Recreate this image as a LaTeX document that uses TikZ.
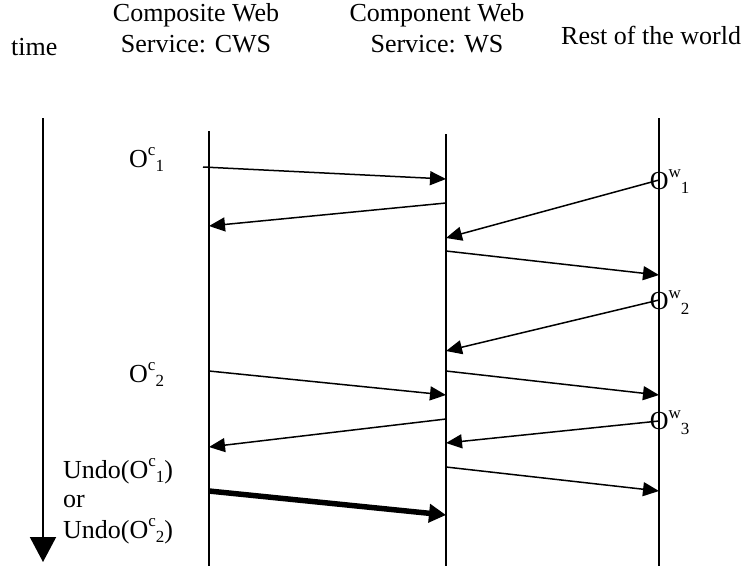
\documentclass[tikz,border=0pt]{standalone}
\usepackage{fontspec}
\setmainfont{Liberation Serif}
\usetikzlibrary{arrows.meta}
\newcommand\Opn[2]{O\raisebox{11.5pt}{\fontsize{17}{17}\selectfont #1}\raisebox{-4.5pt}{\fontsize{17}{17}\selectfont #2}}
\tikzset{
  lbl/.style={inner sep=0pt, anchor=base west, font=\fontsize{26}{31}\selectfont},
  hdr/.style={inner sep=0pt, anchor=base, font=\fontsize{26}{31}\selectfont},
  msg/.style={line width=1.5pt, -{Triangle[length=16pt,width=14pt]}},
  thickmsg/.style={line width=5.5pt, -{Triangle[length=17pt,width=18pt]}},
  life/.style={line width=1.5pt}
}
\begin{document}
\begin{tikzpicture}[x=1pt,y=-1pt]
\useasboundingbox (0,0) rectangle (747,566);
% headers
\node[lbl] (time) at (11,55) {time};
\node[hdr] (cws1) at (196,21) {Composite Web};
\node[hdr] (cws2) at (196,52) {Service: CWS};
\node[hdr] (ws1) at (437,21) {Component Web};
\node[hdr] (ws2) at (437,52) {Service: WS};
\node[lbl] (rest) at (561,44) {Rest of the world};
% time arrow
\coordinate (t0) at (43,118);
\coordinate (t1) at (43,562);
\draw[line width=2pt, -{Triangle[length=25pt,width=26pt]}] (t0) -- (t1);
% lifelines
\coordinate (c0) at (209,131); \coordinate (c1) at (209,566);
\coordinate (w0) at (446,134); \coordinate (w1) at (446,566);
\coordinate (r0) at (659,118); \coordinate (r1) at (659,566);
\draw[line width=1.4pt] (c0) -- (c1);
\draw[life] (w0) -- (w1);
\draw[line width=2pt] (r0) -- (r1);
% labels
\node[lbl] (oc1) at (129,167) {\Opn{c}{1}};
\node[lbl] (oc2) at (129,382) {\Opn{c}{2}};
\node[lbl] (ow1) at (649.6,189) {\Opn{w}{1}};
\node[lbl] (ow2) at (649.6,309.5) {\Opn{w}{2}};
\node[lbl] (ow3) at (649.6,429.5) {\Opn{w}{3}};
\node[lbl] (u1) at (63,478) {Undo(\Opn{c}{1})};
\node[lbl] (or) at (63,507) {or};
\node[lbl] (u2) at (63,538) {Undo(\Opn{c}{2})};
% message endpoints
\coordinate (a1s) at (203,167); \coordinate (a1e) at (446,179);
\coordinate (a2s) at (446,203); \coordinate (a2e) at (209,226);
\coordinate (a3s) at (659,180); \coordinate (a3e) at (446,238);
\coordinate (a4s) at (446,251); \coordinate (a4e) at (659,275);
\coordinate (a5s) at (659,300); \coordinate (a5e) at (446,351);
\coordinate (a6s) at (209,371); \coordinate (a6e) at (446,395);
\coordinate (a7s) at (446,371); \coordinate (a7e) at (659,395);
\coordinate (a8s) at (659,421); \coordinate (a8e) at (446,443);
\coordinate (a9s) at (446,419); \coordinate (a9e) at (209,447);
\coordinate (a10s) at (446,467); \coordinate (a10e) at (659,491);
\coordinate (a11s) at (209,491); \coordinate (a11e) at (446,515);
\draw[msg] (a1s) -- (a1e);
\draw[msg] (a2s) -- (a2e);
\draw[msg] (a3s) -- (a3e);
\draw[msg] (a4s) -- (a4e);
\draw[msg] (a5s) -- (a5e);
\draw[msg] (a6s) -- (a6e);
\draw[msg] (a7s) -- (a7e);
\draw[msg] (a8s) -- (a8e);
\draw[msg] (a9s) -- (a9e);
\draw[msg] (a10s) -- (a10e);
\draw[thickmsg] (a11s) -- (a11e);
\end{tikzpicture}
\end{document}
